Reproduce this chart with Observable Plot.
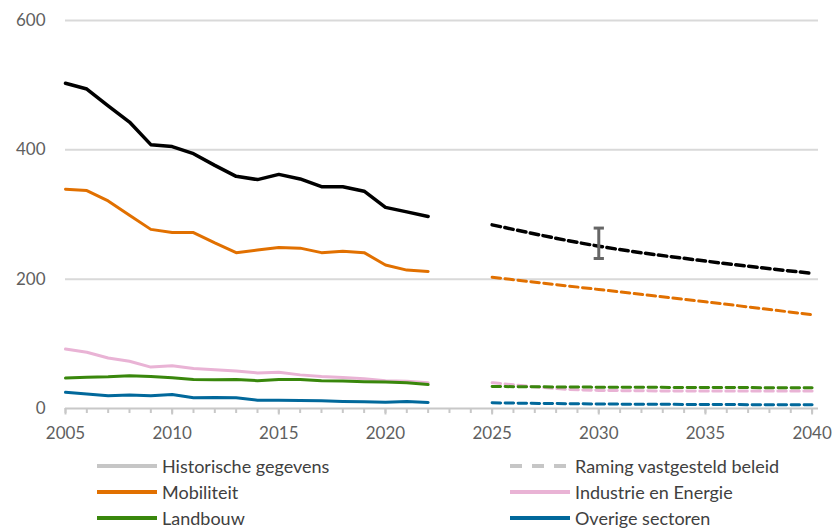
<!DOCTYPE html>
<html><head><meta charset="utf-8">
<script src="https://cdn.jsdelivr.net/npm/d3@7"></script>
<script src="https://cdn.jsdelivr.net/npm/@observablehq/plot@0.6"></script>
<style>
body{margin:0;background:#fff;font-family:Lato,sans-serif;width:834px;height:528px;overflow:hidden;}
#legend{position:relative;height:78px;}
.item{position:absolute;display:flex;align-items:center;height:26px;font-size:18px;color:#404040;white-space:nowrap;}
.item svg{margin-right:5px;}
</style></head><body><div id="chart"></div><div id="legend"></div>
<script>
// Historische gegevens
const histYears = [2005,2006,2007,2008,2009,2010,2011,2012,2013,2014,2015,2016,2017,2018,2019,2020,2021,2022];
const totaalHist     = [503,494,468,443,408,405,394,376,359,354,362,355,343,343,336,311,304,297];
const mobiliteitHist = [339,337,321,299,277,272,272,256,241,245,249,248,241,243,241,222,214,212];
const industrieHist  = [92,87,78,73,64,66,62,60,58,55,56,52,49.5,48,46,43,42,40];
const landbouwHist   = [47,48.5,49,50.5,49.5,47.5,45,44.5,45,43,45,45,43,42.5,41.5,41,40,37];
const overigeHist    = [25,22.5,19.6,21,19.6,21.7,16.5,17,16.5,12.8,12.8,12.3,11.8,10.8,10.3,9.8,10.8,9.3];
// Raming vastgesteld beleid
const projYears = [2025,2030,2035,2040];
const totaalProj     = [284,251,228,209];
const mobiliteitProj = [203,184,165,145];
const industrieProj  = [40,28,27,27];
const landbouwProj   = [34,33,32.5,32];
const overigeProj    = [8.8,7,6.2,5.7];
// Onzekerheidsband 2030
const bandYear = [2030];
const bandLow = [232];
const bandHigh = [279];
// Assen
const yTicks = [0,200,400,600];
const gridTicks = [200,400,600];
const xLabelYears = [2005,2010,2015,2020,2025,2030,2035,2040];
const xTickYears = d3.range(2005, 2041);

const series = [
  {name:"Industrie en Energie", color:"#e9b3d5", hist:industrieHist, proj:industrieProj, w:3},
  {name:"Landbouw", color:"#39870c", hist:landbouwHist, proj:landbouwProj, w:3},
  {name:"Overige sectoren", color:"#01689b", hist:overigeHist, proj:overigeProj, w:3},
  {name:"Mobiliteit", color:"#e17000", hist:mobiliteitHist, proj:mobiliteitProj, w:3},
  {name:"Totaal", color:"#000000", hist:totaalHist, proj:totaalProj, w:3.5}
];
const histData = series.flatMap(s => histYears.map((y,i) => ({name:s.name, color:s.color, w:s.w, year:y, value:s.hist[i]})));
const projData = series.flatMap(s => projYears.map((y,i) => ({name:s.name, color:s.color, w:s.w, year:y, value:s.proj[i]})));
const band = bandYear.map((y,i) => ({year:y, lo:bandLow[i], hi:bandHigh[i]}));

const marks = [
  Plot.ruleY(gridTicks, {stroke:"#d9d9d9", strokeWidth:2}),
  Plot.ruleY([0], {stroke:"#c8c8c8", strokeWidth:2}),
  Plot.axisX({ticks:xTickYears, tickSize:5, text:null, stroke:"#c8c8c8", strokeWidth:2}),
  Plot.axisX({ticks:xLabelYears, tickSize:6.5, text:null, stroke:"#c8c8c8", strokeWidth:2}),
  Plot.axisX({ticks:xLabelYears, tickSize:0, tickPadding:18, tickFormat:d=>String(d), fill:"#5f5f5f", fontSize:17}),
  Plot.axisY({ticks:yTicks, tickSize:0, tickPadding:20, fill:"#5f5f5f", fontSize:17, tickFormat:d=>String(d)})
];
for (const s of series) {
  marks.push(Plot.line(histData.filter(d=>d.name===s.name), {x:"year", y:"value", stroke:s.color, strokeWidth:s.w, strokeLinejoin:"round"}));
  marks.push(Plot.line(projData.filter(d=>d.name===s.name), {x:"year", y:"value", stroke:s.color, strokeWidth:s.w, strokeDasharray:"8.5,4.5", curve:"monotone-x"}));
}
marks.push(Plot.ruleX(band, {x:"year", y1:"lo", y2:"hi", stroke:"#666", strokeWidth:3}));
marks.push(Plot.link(band, {x1:d=>d.year-0.24, x2:d=>d.year+0.24, y1:"lo", y2:"lo", stroke:"#666", strokeWidth:3}));
marks.push(Plot.link(band, {x1:d=>d.year-0.24, x2:d=>d.year+0.24, y1:"hi", y2:"hi", stroke:"#666", strokeWidth:3}));

const chart = Plot.plot({
  width:834, height:450,
  marginTop:20, marginLeft:65, marginRight:16, marginBottom:42,
  style:{fontFamily:"Lato, sans-serif", fontSize:"17px", background:"#fff"},
  x:{domain:[2005,2040.3], label:null},
  y:{domain:[0,600], label:null},
  marks
});
document.getElementById("chart").appendChild(chart);

const legendItems = [
  {label:"Historische gegevens", color:"#c6c6c6", dash:null, left:97, row:0},
  {label:"Raming vastgesteld beleid", color:"#c6c6c6", dash:"12,10", left:510, row:0},
  {label:"Mobiliteit", color:"#e17000", dash:null, left:97, row:1},
  {label:"Industrie en Energie", color:"#e9b3d5", dash:null, left:510, row:1},
  {label:"Landbouw", color:"#39870c", dash:null, left:97, row:2},
  {label:"Overige sectoren", color:"#01689b", dash:null, left:510, row:2}
];
const legend = document.getElementById("legend");
legend.style.marginTop = "3px";
for (const it of legendItems) {
  const div = document.createElement("div");
  div.className = "item";
  div.style.left = it.left + "px";
  div.style.top = (it.row*26) + "px";
  div.innerHTML = `<svg width="60" height="6"><line x1="0" x2="60" y1="3" y2="3" stroke="${it.color}" stroke-width="4" ${it.dash?`stroke-dasharray="${it.dash}"`:""}/></svg><span>${it.label}</span>`;
  legend.appendChild(div);
}
</script></body></html>
